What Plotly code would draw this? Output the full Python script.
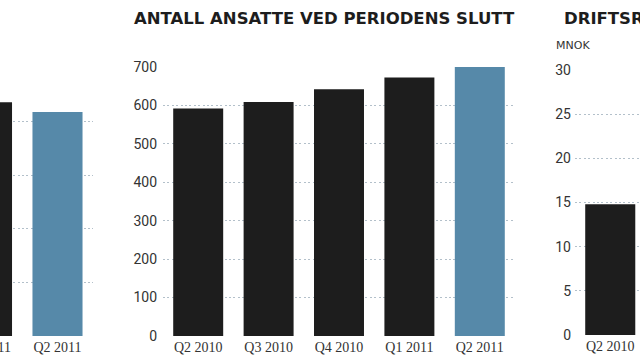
import plotly.graph_objects as go

# Left chart (only the last two quarters visible in the crop)
left_quarters = ["Q1 2011", "Q2 2011"]
left_values = [218, 209]

# Middle chart: employees at end of period
mid_title = "ANTALL ANSATTE VED PERIODENS SLUTT"
mid_quarters = ["Q2 2010", "Q3 2010", "Q4 2010", "Q1 2011", "Q2 2011"]
mid_values = [592, 609, 642, 673, 700]

# Right chart: operating result (only first quarter visible)
right_title = "DRIFTSRESULTAT"
right_unit = "MNOK"
right_quarters = ["Q2 2010"]
right_values = [14.8]

BLACK = "#1d1d1d"
BLUE = "#5689a9"
GRID = "#b3c0ca"
W, H = 640, 360
CAT_PX = 70.5

def colors(n):
    return [BLACK] * (n - 1) + [BLUE]

fig = go.Figure()
fig.add_trace(go.Bar(x=left_quarters, y=left_values, marker=dict(color=colors(len(left_values)), line_width=0),
                     xaxis="x", yaxis="y", showlegend=False))
fig.add_trace(go.Bar(x=mid_quarters, y=mid_values, marker=dict(color=colors(len(mid_values)), line_width=0),
                     xaxis="x2", yaxis="y2", showlegend=False))
fig.add_trace(go.Bar(x=right_quarters, y=right_values, marker=dict(color=[BLACK], line_width=0),
                     xaxis="x3", yaxis="y3", showlegend=False))

def px_x(p):
    return p / W

def px_y(p):
    return (H - p) / H

tickfont_x = dict(family="Liberation Serif", size=14, color="#333333")
tickfont_y = dict(family="Roboto", size=14, color="#333333")

# domains
ldom = [0, px_x(92.75)]
lrange = [1.5 - 92.75 / CAT_PX, 1.5]
mdom = [px_x(163), px_x(515)]
rdom = [px_x(575), 1]
rrange = [-0.5, -0.5 + 65 / CAT_PX]

common_x = dict(showgrid=False, zeroline=False, showline=False, ticks="", tickfont=tickfont_x,
                type="category", ticklabelstandoff=1, automargin=False)
common_y = dict(showgrid=True, gridcolor=GRID, griddash="2px,2.4px", gridwidth=1.2, zeroline=False,
                showline=False, ticks="", tickfont=tickfont_y, automargin=False)

fig.update_layout(
    template="none",
    width=W, height=H, margin=dict(l=0, r=0, t=0, b=0, pad=0),
    paper_bgcolor="white", plot_bgcolor="white", bargap=0.29,
    xaxis=dict(domain=ldom, range=lrange, anchor="y", **common_x),
    yaxis=dict(domain=[px_y(336), px_y(68)], range=[0, 250], dtick=50, showticklabels=False, anchor="x", **common_y),
    xaxis2=dict(domain=mdom, range=[-0.5, 4.5], anchor="y2", **common_x),
    yaxis2=dict(domain=[px_y(336), px_y(67)], range=[0, 700], dtick=100, anchor="x2", ticklabelstandoff=5, **common_y),
    xaxis3=dict(domain=rdom, range=rrange, anchor="y3", **common_x),
    yaxis3=dict(domain=[px_y(335), px_y(70)], range=[0, 30], dtick=5, anchor="x3", ticklabelstandoff=3, **common_y),
)

# partially visible tick label of the left chart (derived from axis geometry)
lab_x = ldom[0] + (0 - lrange[0]) / (lrange[1] - lrange[0]) * (ldom[1] - ldom[0])
fig.add_annotation(text=left_quarters[0], x=lab_x, y=px_y(347), xref="paper", yref="paper",
                   xanchor="center", yanchor="middle", showarrow=False, font=tickfont_x)

title_font = dict(family="DejaVu Sans", size=16.5, color="#1d1d1d", weight="bold")
fig.add_annotation(text=mid_title, x=px_x(132), y=px_y(18.5), xref="paper", yref="paper",
                   xanchor="left", yanchor="middle", showarrow=False, font=title_font)
fig.add_annotation(text=right_title, x=px_x(562), y=px_y(18.5), xref="paper", yref="paper",
                   xanchor="left", yanchor="middle", showarrow=False, font=title_font)
fig.add_annotation(text=right_unit, x=px_x(554), y=px_y(45), xref="paper", yref="paper",
                   xanchor="left", yanchor="middle", showarrow=False,
                   font=dict(family="DejaVu Sans", size=11, color="#333333"))

fig.write_html("out.html", config={"displayModeBar": False},
               post_script="document.body.style.margin='0';document.body.style.overflow='hidden';")
